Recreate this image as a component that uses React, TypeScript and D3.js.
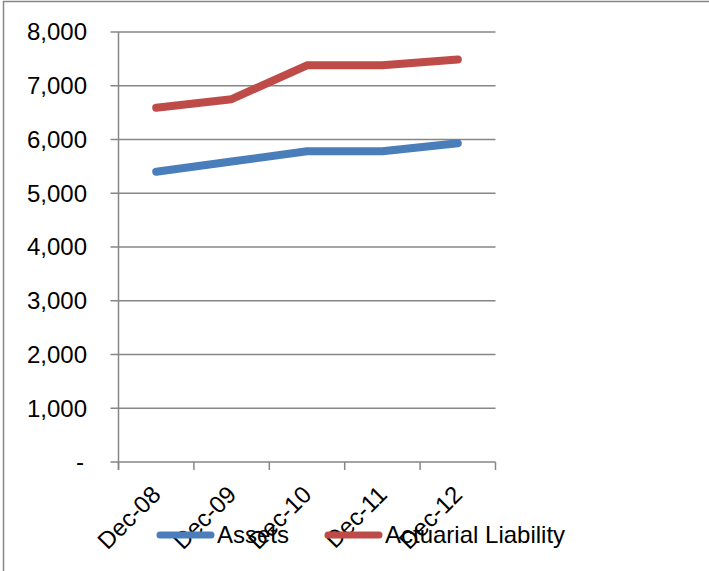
import React from "react";
import * as d3 from "d3";

const categories = ["Dec-08", "Dec-09", "Dec-10", "Dec-11", "Dec-12"];
const assets = [5400, 5590, 5780, 5780, 5930];
const liability = [6590, 6750, 7380, 7380, 7490];
const yTicks = [0, 1000, 2000, 3000, 4000, 5000, 6000, 7000, 8000];
const seriesNames = ["Assets", "Actuarial Liability"];
const seriesColors = ["#4a7ebb", "#be4b48"];

const W = 709;
const H = 571;
const left = 118.5;
const right = 495.5;
const top = 32;
const bottom = 462;
const FONT = "'Liberation Sans', Arial, sans-serif";
const FS = 24;

export default function App() {
  const x = d3.scaleBand<string>().domain(categories).range([left, right]);
  const y = d3.scaleLinear().domain([0, 8000]).range([bottom, top]);
  const fmt = (v: number) => (v === 0 ? "-" : d3.format(",")(v));
  const line = d3
    .line<number>()
    .x((_, i) => (x(categories[i]) as number) + x.bandwidth() / 2)
    .y((d) => y(d));
  const series = [assets, liability];
  const edges = [...categories.map((c) => x(c) as number), right];

  return (
    <svg
      width={W}
      height={H}
      style={{ position: "absolute", left: 0, top: 0, background: "#fff" }}
    >
      <rect x={3.5} y={1.5} width={W + 10} height={H + 10} fill="#fff" stroke="#868686" strokeWidth={1.5} />
      {yTicks.map((t) => (
        <g key={t}>
          <line x1={left - 8} x2={right} y1={y(t)} y2={y(t)} stroke="#868686" strokeWidth={1.5} />
          <text
            x={t === 0 ? 84 : 87}
            y={y(t)}
            dy="0.35em"
            textAnchor="end"
            fontFamily={FONT}
            fontSize={FS}
            fill="#000"
          >
            {fmt(t)}
          </text>
        </g>
      ))}
      <line x1={left} x2={left} y1={top} y2={bottom + 8} stroke="#868686" strokeWidth={1.5} />
      {edges.map((e, i) => (
        <line key={i} x1={e} x2={e} y1={bottom} y2={bottom + 8} stroke="#868686" strokeWidth={1.5} />
      ))}
      {series.map((s, i) => (
        <path
          key={i}
          d={line(s) as string}
          fill="none"
          stroke={seriesColors[i]}
          strokeWidth={8}
          strokeLinecap="round"
          strokeLinejoin="round"
        />
      ))}
      {categories.map((c) => {
        const cx = (x(c) as number) + x.bandwidth() / 2 + 6;
        const cy = 496;
        return (
          <text
            key={c}
            x={cx}
            y={cy}
            textAnchor="end"
            fontFamily={FONT}
            fontSize={FS}
            transform={`rotate(-45 ${cx} ${cy})`}
          >
            {c}
          </text>
        );
      })}
      {seriesNames.map((n, i) => {
        const lx = i === 0 ? 157 : 325;
        return (
          <g key={n}>
            <line x1={lx + 3} x2={lx + 54} y1={535} y2={535} stroke={seriesColors[i]} strokeWidth={7} strokeLinecap="round" />
            <text x={lx + 60} y={535} dy="0.35em" fontFamily={FONT} fontSize={FS}>
              {n}
            </text>
          </g>
        );
      })}
    </svg>
  );
}
